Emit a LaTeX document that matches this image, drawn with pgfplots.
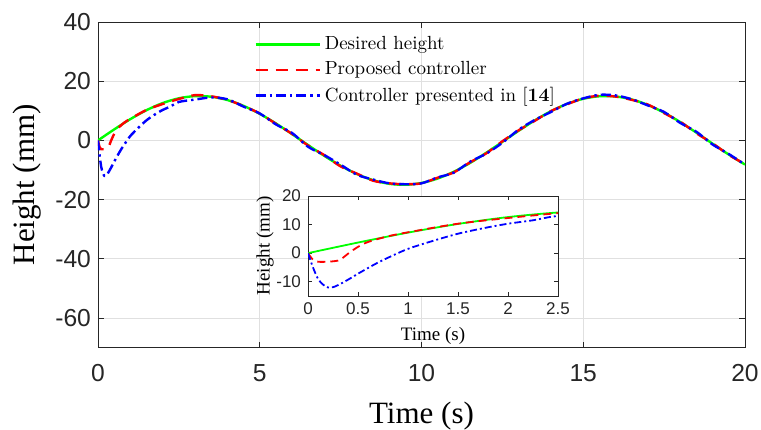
\documentclass[border=0pt]{standalone}
\usepackage{fontspec}
\usepackage{pgfplots}
\pgfplotsset{compat=1.18}
\usepackage{pgfplotstable}
\newfontfamily\arial{Liberation Sans}
\newfontfamily\tnr{Liberation Serif}
\definecolor{cgreen}{rgb}{0,1,0}
\definecolor{cred}{rgb}{1,0,0}
\definecolor{cblue}{rgb}{0,0,1}

% desired height
\pgfplotstableread{
t y
0 0
0.5 3.71
1 7.19
1.5 10.22
2 12.62
2.5 14.23
3 14.96
3.5 14.76
4 13.64
4.5 11.67
5 8.98
5.5 5.73
6 2.12
6.5 -1.62
7 -5.26
7.5 -8.57
8 -11.35
8.5 -13.43
9 -14.66
9.5 -14.99
10 -14.38
10.5 -12.88
11 -10.58
11.5 -7.62
12 -4.19
12.5 -0.50
13 3.23
13.5 6.75
14 9.86
14.5 12.35
15 14.07
15.5 14.92
16 14.84
16.5 13.84
17 11.98
17.5 9.37
18 6.18
18.5 2.61
19 -1.13
19.5 -4.79
20 -8.16
}\desired

% proposed controller
\pgfplotstableread{
t y
0 0
0.05 -2.3
0.1 -3
0.2 -3
0.3 -2.6
0.35 -1.6
0.4 -0.2
0.5 2.2
0.6 3.9
0.8 5.9
1 7.3
1.5 10.3
2 12.3
2.5 14.0
3 15.3
3.5 14.9
4 13.7
4.5 11.6
5 9.1
5.5 5.6
6 2.2
6.5 -1.8
7 -5.0
7.5 -8.8
8 -11.2
8.5 -13.6
9 -14.5
9.5 -14.8
10 -14.5
10.5 -12.6
11 -10.8
11.5 -7.4
12 -4.4
12.5 -0.3
13 3.4
13.5 6.6
14 9.9
14.5 12.2
15 14.2
15.5 15.1
16 14.8
16.5 13.7
17 12.1
17.5 9.2
18 6.3
18.5 2.4
19 -1.0
19.5 -4.9
20 -8.0
}\proposed

% controller of [14]
\pgfplotstableread{
t y
0 0
0.05 -5
0.1 -9
0.15 -11
0.2 -12
0.25 -11.9
0.3 -11.2
0.4 -9.3
0.5 -7.2
0.6 -5.2
0.7 -3.3
0.8 -1.6
1 1.5
1.25 4.3
1.5 6.8
1.75 8.7
2 10.3
2.25 11.5
2.5 13.0
3 13.8
3.5 14.5
4 13.9
4.5 11.4
5 9.1
5.5 5.4
6 2.5
6.5 -2.2
7 -5.0
7.5 -8.2
8 -11.6
8.5 -13.2
9 -14.5
9.5 -14.8
10 -14.5
10.5 -12.5
11 -10.9
11.5 -7.2
12 -4.5
12.5 -0.8
13 3.6
13.5 6.9
14 9.6
14.5 12.4
15 14.2
15.5 15.4
16 15.2
16.5 13.9
17 11.8
17.5 9.6
18 5.9
18.5 2.9
19 -1.4
19.5 -4.6
20 -8.2
}\reference

\begin{document}
\begin{tikzpicture}
\useasboundingbox (-49pt,-40.7pt) rectangle (331.5pt,173.8pt);
\begin{axis}[
  at={(0pt,0pt)}, anchor=south west,
  scale only axis, width=323.5pt, height=162.8pt,
  xmin=0, xmax=20, ymin=-70, ymax=40,
  xtick={0,5,...,20}, ytick={-60,-40,...,40},
  tick align=inside, major tick length=3pt,
  grid=major, grid style={black!12, line width=0.4pt},
  axis line style={black!85, line width=0.4pt},
  every tick/.style={black!85},
  /pgf/number format/assume math mode=true,
  tick label style={font=\arial\fontsize{12.3}{12.5}\selectfont, text=black!85},
  xticklabel style={yshift=-5pt},
  xlabel={Time (s)}, ylabel={Height (mm)},
  label style={font=\tnr\fontsize{15.5}{16}\selectfont},
  xlabel style={yshift=-3pt},
  legend image code/.code={\draw[#1] (0pt,0pt) -- (32pt,0pt);},
  legend style={at={(0.238,0.975)}, anchor=north west, draw=none, fill=none,
    font=\fontsize{9.5}{11}\selectfont, row sep=0.5pt, inner sep=1pt},
  legend cell align=left,
]
\addplot[cgreen, line width=1.2pt, smooth] table[x=t,y=y] {\desired};
\addlegendentry{Desired height}
\addplot[cred, line width=1.2pt, dash pattern=on 6pt off 4pt, smooth] table[x=t,y=y] {\proposed};
\addlegendentry{Proposed controller}
\addplot[cblue, line width=1.2pt, dash pattern=on 5pt off 2pt on 1.2pt off 2pt, smooth] table[x=t,y=y] {\reference};
\addlegendentry{Controller presented in [\textbf{14}]}
\end{axis}
\begin{axis}[
  at={(105pt,25.8pt)}, anchor=south west,
  scale only axis, width=125pt, height=50pt,
  xmin=0, xmax=2.5, ymin=-15, ymax=20,
  xtick={0,0.5,1,1.5,2,2.5}, ytick={-10,0,10,20},
  tick align=inside, major tick length=2pt,
  axis background/.style={fill=white},
  axis line style={black!85, line width=0.4pt},
  every tick/.style={black!85},
  /pgf/number format/assume math mode=true,
  tick label style={font=\arial\fontsize{8.5}{9}\selectfont, text=black!85},
  xlabel={Time (s)}, ylabel={Height (mm)},
  label style={font=\tnr\fontsize{9.5}{10}\selectfont},
  xlabel style={yshift=1pt}, ylabel style={yshift=-5.5pt},
]
\addplot[cgreen, line width=0.9pt, smooth, restrict x to domain=0:3] table[x=t,y=y] {\desired};
\addplot[cred, line width=0.9pt, dash pattern=on 4pt off 2.5pt, smooth, restrict x to domain=0:3] table[x=t,y=y] {\proposed};
\addplot[cblue, line width=0.9pt, dash pattern=on 3.5pt off 1.5pt on 1pt off 1.5pt, smooth, restrict x to domain=0:3] table[x=t,y=y] {\reference};
\end{axis}
\end{tikzpicture}
\end{document}
